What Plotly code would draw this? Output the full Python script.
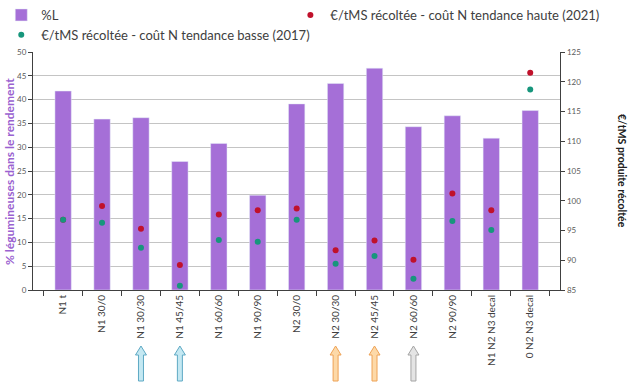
import plotly.graph_objects as go
from plotly.subplots import make_subplots

categories = ["N1 t", "N1 30/0", "N1 30/30", "N1 45/45", "N1 60/60", "N1 90/90",
              "N2 30/0", "N2 30/30", "N2 45/45", "N2 60/60", "N2 90/90",
              "N1 N2 N3 decal", "0 N2 N3 decal"]
pct_L = [41.8, 35.9, 36.2, 27.0, 30.8, 19.9, 39.1, 43.4, 46.6, 34.3, 36.6, 31.9, 37.7]
cost_high_2021 = [96.8, 99.1, 95.3, 89.2, 97.7, 98.4, 98.7, 91.7, 93.3, 90.1, 101.2, 98.4, 121.5]
cost_low_2017 = [96.8, 96.3, 92.1, 85.7, 93.4, 93.1, 96.8, 89.4, 90.7, 86.9, 96.6, 95.1, 118.7]
arrow_marks = {"N1 30/30": "blue", "N1 45/45": "blue", "N2 30/30": "orange",
               "N2 45/45": "orange", "N2 60/60": "gray"}

BAR = "#a56fd7"
RED = "#c0112b"
GREEN = "#17967c"
FONT = "Lato"

fig = make_subplots(specs=[[{"secondary_y": True}]])
fig.add_trace(go.Bar(x=categories, y=pct_L, name="%L", marker_color=BAR,
                     legend="legend"), secondary_y=False)
fig.add_trace(go.Scatter(x=categories, y=cost_high_2021, mode="markers",
                         name="€/tMS récoltée - coût N tendance haute (2021)",
                         marker=dict(color=RED, size=6), legend="legend2"),
              secondary_y=True)
fig.add_trace(go.Scatter(x=categories, y=cost_low_2017, mode="markers",
                         name="€/tMS récoltée - coût N tendance basse (2017)",
                         marker=dict(color=GREEN, size=6), legend="legend"),
              secondary_y=True)

arrow_styles = {"blue": ("#c4e8f2", "#5ea9c4"),
                "orange": ("#fdd9a8", "#eea255"),
                "gray": ("#e4e4e4", "#a4a4a4")}
arrow_path = "M -2.5 -91 L 2.5 -91 L 2.5 -65 L 5.5 -65 L 0 -56 L -5.5 -65 L -2.5 -65 Z"
for cat, style in arrow_marks.items():
    fill, line = arrow_styles[style]
    fig.add_shape(type="path", xref="x", yref="paper",
                  xsizemode="pixel", ysizemode="pixel",
                  xanchor=categories.index(cat), yanchor=0,
                  path=arrow_path, fillcolor=fill, line=dict(color=line, width=1))

fig.update_layout(
    width=634, height=388,
    margin=dict(l=33, r=40, t=52, b=98, autoexpand=False),
    paper_bgcolor="white", plot_bgcolor="white",
    font=dict(family=FONT, color="#404040"),
    bargap=0.58,
    showlegend=True,
    legend=dict(orientation="v", x=0.002, y=1.005, xref="container", yref="container",
                xanchor="left", yanchor="top", font=dict(size=13, color="#404040"),
                itemwidth=30, tracegroupgap=0, bgcolor="rgba(0,0,0,0)"),
    legend2=dict(orientation="v", x=0.458, y=1.005, xref="container", yref="container",
                 xanchor="left", yanchor="top", font=dict(size=13, color="#404040"),
                 itemwidth=30, bgcolor="rgba(0,0,0,0)"),
)

fig.update_xaxes(type="category", tickangle=-90, tickfont=dict(size=10, color="#404040"),
                 showline=True, linecolor="#404040", linewidth=1,
                 ticks="outside", tickson="boundaries", ticklen=5, tickcolor="#404040",
                 showgrid=False)
fig.update_yaxes(range=[0, 50], dtick=5, showgrid=True, gridcolor="#c4c4c4",
                 tickfont=dict(size=8, color="#595959"),
                 showline=True, linecolor="#404040", ticks="outside", ticklen=4,
                 tickcolor="#404040", zeroline=False, secondary_y=False)
fig.update_yaxes(range=[85, 125], dtick=5, showgrid=False,
                 tickfont=dict(size=8, color="#595959"),
                 showline=True, linecolor="#404040", ticks="outside", ticklen=4,
                 tickcolor="#404040", zeroline=False, secondary_y=True)

fig.add_annotation(text="<b>% légumineuses dans le rendement</b>", xref="paper", yref="paper",
                   x=-0.0428, y=0.5, xanchor="center", yanchor="middle",
                   textangle=-90, showarrow=False,
                   font=dict(size=12, color="#9a62d0", family=FONT))
fig.add_annotation(text="<b>€/tMS produite récoltée</b>", xref="paper", yref="paper",
                   x=1.05, y=0.5, xanchor="center", yanchor="middle",
                   textangle=90, showarrow=False,
                   font=dict(size=10.5, color="#202020", family=FONT))

fig.write_html("out.html", config={"displayModeBar": False},
               post_script="document.body.style.margin='0';")
